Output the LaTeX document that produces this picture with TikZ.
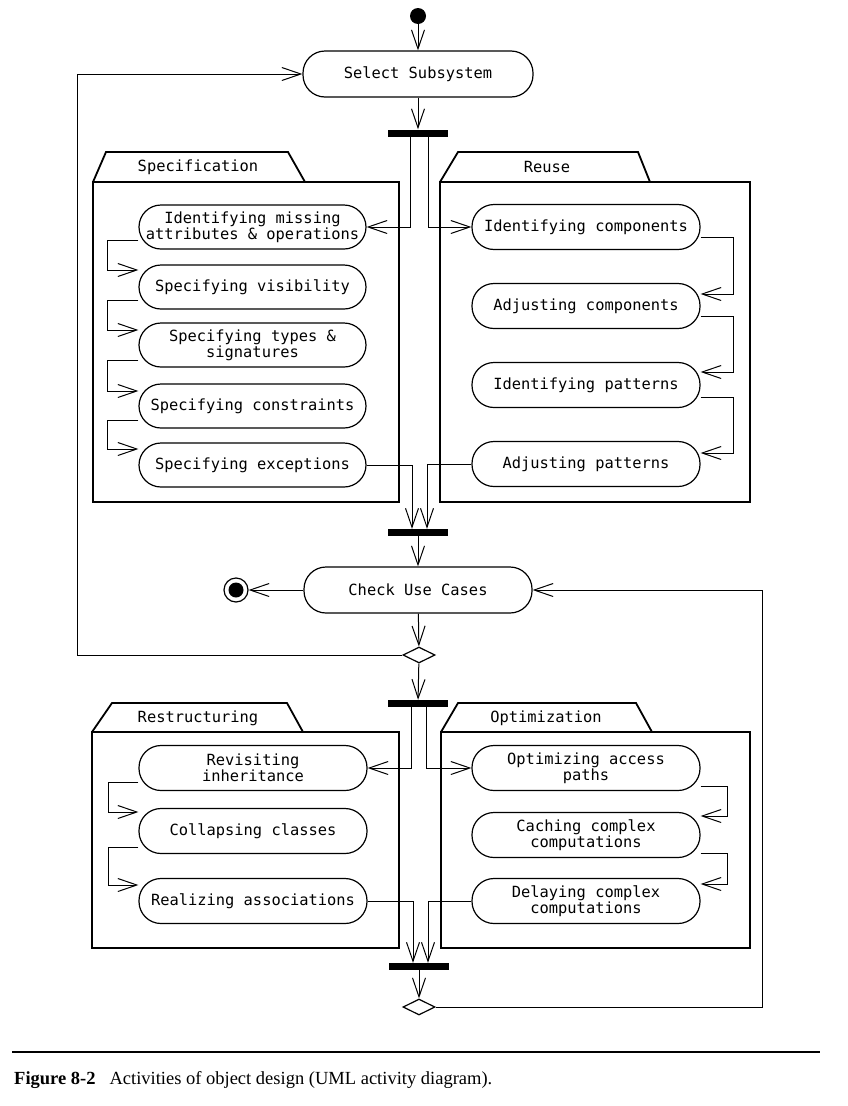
\documentclass[tikz,border=0pt]{standalone}
\usepackage{fontspec}
\setmainfont{Liberation Serif}
\newfontfamily\umlfont{DejaVu Sans Mono}
\usetikzlibrary{arrows.meta,shapes.geometric,calc}
\begin{document}
\begin{tikzpicture}[x=1pt,y=-1pt,
  umltext/.style={font=\umlfont\fontsize{15.4}{15}\selectfont},
  act/.style={draw, line width=1.2pt, rectangle, rounded corners=22pt, minimum width=228pt, minimum height=45pt, inner sep=0pt, align=center, umltext},
  flow/.style={-{Straight Barb[length=19pt,width=13pt,line width=1pt]}, line width=1pt},
  plain/.style={line width=1pt},
  bar/.style={fill=black, rectangle, minimum width=60pt, minimum height=7pt, inner sep=0pt},
  pkg/.style={line width=1.8pt},
  dec/.style={diamond, draw, line width=1.2pt, minimum width=32pt, minimum height=16pt, inner sep=0pt},
]
\useasboundingbox (0,0) rectangle (847,1106);

% ---------- packages ----------
\draw[pkg] (93,182) -- (106,152) -- (288,152) -- (305,182);
\draw[pkg] (93,182) rectangle (399,502);
\node[umltext] (tspec) at (198,167) {Specification};
\draw[pkg] (440,182) -- (458,152) -- (638,152) -- (650,182);
\draw[pkg] (440,182) rectangle (750,502);
\node[umltext] (treuse) at (547,167) {Reuse};
\draw[pkg] (92,732) -- (112,703) -- (287,703) -- (303,732);
\draw[pkg] (92,732) rectangle (399,948);
\node[umltext] (trest) at (198,718) {Restructuring};
\draw[pkg] (441,732) -- (458,703) -- (636,703) -- (652,732);
\draw[pkg] (441,732) rectangle (750,948);
\node[umltext] (topt) at (546,718) {Optimization};

% ---------- nodes ----------
\node[circle, fill=black, minimum size=16pt, inner sep=0pt] (init) at (418,16) {};
\node[act, minimum width=230pt, minimum height=46pt] (sel) at (418,74) {Select Subsystem};
\node[bar] (fork1) at (418,133) {};

\node[act, minimum width=227pt, minimum height=44pt] (A1) at (252.5,227) {Identifying missing\\attributes \& operations};
\node[act, minimum width=227pt, minimum height=44pt] (A2) at (252.5,287) {Specifying visibility};
\node[act, minimum width=227pt, minimum height=44pt] (A3) at (252.5,345) {Specifying types \&\\signatures};
\node[act, minimum width=227pt, minimum height=44pt] (A4) at (252.5,406) {Specifying constraints};
\node[act, minimum width=227pt, minimum height=44pt] (A5) at (252.5,465) {Specifying exceptions};

\node[act] (R1) at (586,227) {Identifying components};
\node[act] (R2) at (586,306) {Adjusting components};
\node[act] (R3) at (586,385) {Identifying patterns};
\node[act] (R4) at (586,464) {Adjusting patterns};

\node[bar] (join1) at (418,532.5) {};
\node[act, minimum width=228pt, minimum height=46pt] (check) at (418,590) {Check Use Cases};
\node[circle, draw, line width=1.2pt, minimum size=24pt, inner sep=0pt,
  path picture={\fill[black] (path picture bounding box.center) circle (7.5pt);}] (final) at (236,590) {};
\node[dec] (dia1) at (419,655) {};
\node[bar] (fork2) at (418,703.5) {};

\node[act] (S1) at (253,768) {Revisiting\\inheritance};
\node[act] (S2) at (253,831) {Collapsing classes};
\node[act] (S3) at (253,901) {Realizing associations};

\node[act] (O1) at (586,768) {Optimizing access\\paths};
\node[act] (O2) at (586,835) {Caching complex\\computations};
\node[act] (O3) at (586,901) {Delaying complex\\computations};

\node[bar] (join2) at (419,966.5) {};
\node[dec] (dia2) at (419,1007) {};

\coordinate (loopL) at (77,655);
\coordinate (loopR) at (762,1007);

% ---------- connectors ----------
\draw[flow] (init) -- (sel);
\draw[flow] (sel) -- (fork1);
\draw[flow] ([xshift=-8pt]fork1.south) |- (A1.east);
\draw[flow] ([xshift=10pt]fork1.south) |- (R1.west);

\draw[flow] ([yshift=-13pt]A1.west) -- ++(-31,0) |- ([yshift=17pt]A2.west);
\draw[flow] ([yshift=-13pt]A2.west) -- ++(-31,0) |- ([yshift=15pt]A3.west);
\draw[flow] ([yshift=-15pt]A3.west) -- ++(-31,0) |- ([yshift=15pt]A4.west);
\draw[flow] ([yshift=-14pt]A4.west) -- ++(-31,0) |- ([yshift=16pt]A5.west);

\draw[flow] ([yshift=-10pt]R1.east) -- ++(33,0) |- ([yshift=12pt]R2.east);
\draw[flow] ([yshift=-10pt]R2.east) -- ++(33,0) |- ([yshift=13pt]R3.east);
\draw[flow] ([yshift=-12pt]R3.east) -- ++(33,0) |- ([yshift=11pt]R4.east);

\draw[flow] (A5.east) -| ([xshift=-6pt]join1.north);
\draw[flow] (R4.west) -| ([xshift=9pt]join1.north);

\draw[flow] (join1) -- (check);
\draw[flow] (check) -- (final);
\draw[flow] (check) -- (dia1);
\draw[flow] (dia1) -- (fork2);
\draw[flow] (dia1.west) -- (loopL) |- (sel.west);

\draw[flow] ([xshift=-7pt]fork2.south) |- (S1.east);
\draw[flow] ([xshift=8pt]fork2.south) |- (O1.west);

\draw[flow] ([yshift=-14pt]S1.west) -- ++(-30,0) |- ([yshift=19pt]S2.west);
\draw[flow] ([yshift=-16pt]S2.west) -- ++(-30,0) |- ([yshift=16pt]S3.west);

\draw[flow] ([yshift=-18pt]O1.east) -- ++(27,0) |- ([yshift=19pt]O2.east);
\draw[flow] ([yshift=-18pt]O2.east) -- ++(27,0) |- ([yshift=17pt]O3.east);

\draw[flow] (S3.east) -| ([xshift=-6pt]join2.north);
\draw[flow] (O3.west) -| ([xshift=9pt]join2.north);
\draw[flow] (join2) -- (dia2);
\draw[flow] (dia2.east) -- (loopR) |- (check.east);

% ---------- caption ----------
\draw[line width=2pt] (12,1052) -- (820,1052);
\node[anchor=base west, inner sep=0pt, font=\fontsize{18.5}{20}\selectfont] (cap) at (14,1084)
  {\textbf{Figure 8-2}\hspace{14pt}Activities of object design (UML activity diagram).};
\end{tikzpicture}
\end{document}
